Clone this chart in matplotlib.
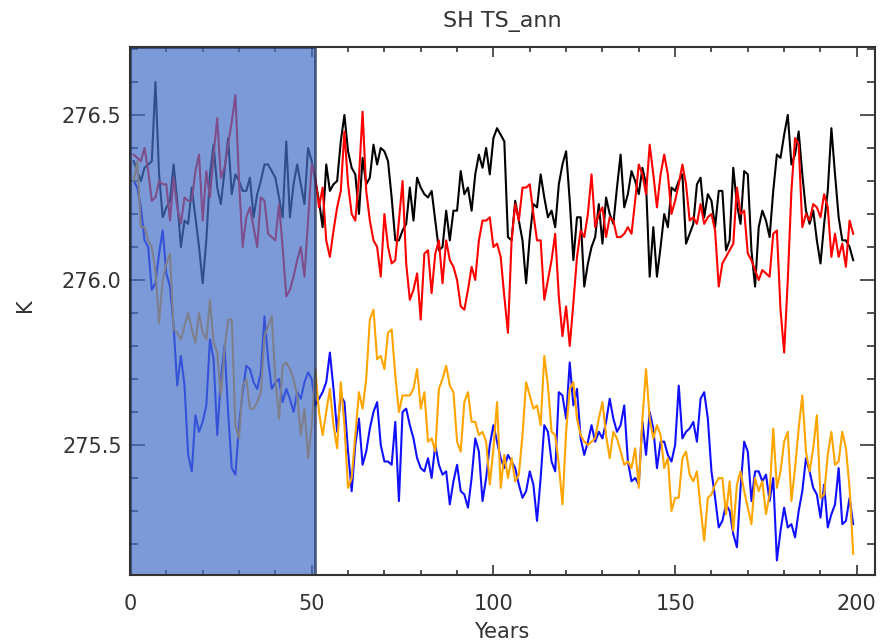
import numpy as np
import matplotlib
matplotlib.use("Agg")
from matplotlib import pyplot as plt
from matplotlib.ticker import MultipleLocator

# Annual SH surface temperature (K), years 1..199
years = np.arange(1, 200)

black = [276.36, 276.33, 276.30, 276.34, 276.35, 276.36, 276.60, 276.32, 276.19, 276.22,
         276.24, 276.35, 276.24, 276.10, 276.18, 276.17, 276.28, 276.19, 276.10, 275.99,
         276.12, 276.32, 276.41, 276.28, 276.23, 276.33, 276.43, 276.26, 276.32, 276.30,
         276.27, 276.27, 276.31, 276.19, 276.26, 276.30, 276.35, 276.35, 276.33, 276.31,
         276.25, 276.19, 276.42, 276.19, 276.29, 276.35, 276.29, 276.23, 276.40, 276.36,
         276.30, 276.24, 276.16, 276.35, 276.27, 276.29, 276.30, 276.42, 276.50, 276.39,
         276.34, 276.32, 276.20, 276.37, 276.29, 276.31, 276.41, 276.35, 276.40, 276.39,
         276.36, 276.25, 276.12, 276.12, 276.15, 276.17, 276.28, 276.18, 276.31, 276.28,
         276.26, 276.25, 276.27, 276.18, 276.09, 276.10, 276.21, 276.12, 276.21, 276.21,
         276.33, 276.26, 276.28, 276.21, 276.32, 276.38, 276.34, 276.40, 276.32, 276.43,
         276.46, 276.44, 276.42, 276.13, 276.12, 276.24, 276.18, 276.12, 275.99, 276.13,
         276.23, 276.22, 276.32, 276.25, 276.19, 276.21, 276.16, 276.29, 276.35, 276.39,
         276.24, 276.06, 276.19, 276.19, 275.98, 276.05, 276.10, 276.13, 276.23, 276.11,
         276.25, 276.20, 276.17, 276.28, 276.38, 276.22, 276.26, 276.33, 276.30, 276.26,
         276.34, 276.29, 276.01, 276.16, 276.01, 276.10, 276.20, 276.16, 276.28, 276.27,
         276.30, 276.32, 276.11, 276.14, 276.17, 276.29, 276.31, 276.19, 276.26, 276.24,
         276.16, 276.27, 276.27, 276.09, 276.12, 276.34, 276.23, 276.17, 276.33, 276.32,
         276.09, 275.98, 276.16, 276.21, 276.18, 276.13, 276.27, 276.38, 276.37, 276.44,
         276.50, 276.35, 276.38, 276.45, 276.32, 276.21, 276.17, 276.21, 276.12, 276.05,
         276.17, 276.27, 276.46, 276.32, 276.19, 276.12, 276.12, 276.10, 276.06]

red = [276.38, 276.37, 276.36, 276.40, 276.33, 276.24, 276.25, 276.30, 276.29, 276.29,
       276.18, 276.31, 276.22, 276.17, 276.25, 276.24, 276.24, 276.33, 276.38, 276.18,
       276.33, 276.25, 276.38, 276.49, 276.31, 276.34, 276.41, 276.48, 276.56, 276.30,
       276.10, 276.19, 276.22, 276.16, 276.10, 276.25, 276.24, 276.14, 276.13, 276.12,
       276.23, 276.10, 275.95, 275.97, 276.01, 276.06, 276.10, 276.01, 276.18, 276.35,
       276.31, 276.22, 276.28, 276.12, 276.07, 276.15, 276.22, 276.27, 276.45, 276.29,
       276.20, 276.18, 276.31, 276.51, 276.27, 276.18, 276.12, 276.10, 276.01, 276.20,
       276.10, 276.05, 276.06, 276.18, 276.30, 276.05, 275.94, 275.97, 276.02, 275.88,
       276.08, 276.09, 275.96, 276.08, 276.12, 275.99, 276.12, 276.06, 276.04, 276.00,
       275.92, 275.91, 275.97, 276.04, 276.00, 276.12, 276.18, 276.18, 276.19, 276.10,
       276.11, 276.07, 275.95, 275.84, 276.12, 276.23, 276.18, 276.28, 276.28, 276.29,
       276.20, 276.12, 276.12, 275.94, 276.00, 276.06, 276.14, 275.95, 275.83, 275.92,
       275.80, 275.93, 276.07, 276.15, 276.13, 276.20, 276.32, 276.16, 276.20, 276.22,
       276.13, 276.19, 276.18, 276.13, 276.13, 276.14, 276.16, 276.14, 276.24, 276.35,
       276.32, 276.26, 276.41, 276.32, 276.22, 276.32, 276.38, 276.32, 276.20, 276.24,
       276.29, 276.35, 276.29, 276.18, 276.19, 276.17, 276.23, 276.17, 276.19, 276.20,
       276.15, 275.98, 276.05, 276.07, 276.09, 276.11, 276.28, 276.20, 276.21, 276.08,
       276.06, 276.03, 276.00, 276.03, 276.02, 276.01, 276.14, 276.15, 275.91, 275.78,
       276.00, 276.27, 276.43, 276.41, 276.16, 276.20, 276.18, 276.23, 276.22, 276.19,
       276.26, 276.22, 276.07, 276.14, 276.07, 276.11, 276.04, 276.18, 276.14]

blue = [276.30, 276.28, 276.22, 276.12, 276.10, 275.97, 275.99, 276.08, 276.15, 276.02,
        275.98, 275.86, 275.68, 275.77, 275.68, 275.47, 275.42, 275.59, 275.54, 275.57,
        275.62, 275.82, 275.76, 275.53, 275.70, 275.80, 275.60, 275.43, 275.41, 275.56,
        275.66, 275.74, 275.73, 275.69, 275.67, 275.72, 275.89, 275.76, 275.67, 275.69,
        275.70, 275.63, 275.67, 275.64, 275.60, 275.66, 275.64, 275.69, 275.72, 275.70,
        275.62, 275.64, 275.66, 275.69, 275.78, 275.67, 275.54, 275.65, 275.63, 275.48,
        275.36, 275.50, 275.58, 275.44, 275.48, 275.55, 275.60, 275.63, 275.50, 275.45,
        275.45, 275.44, 275.57, 275.33, 275.60, 275.61, 275.56, 275.52, 275.46, 275.43,
        275.42, 275.46, 275.40, 275.50, 275.44, 275.41, 275.42, 275.32, 275.39, 275.44,
        275.36, 275.35, 275.31, 275.40, 275.52, 275.48, 275.33, 275.40, 275.50, 275.56,
        275.51, 275.46, 275.43, 275.47, 275.45, 275.43, 275.38, 275.34, 275.36, 275.42,
        275.38, 275.27, 275.40, 275.56, 275.54, 275.45, 275.42, 275.66, 275.65, 275.58,
        275.75, 275.62, 275.67, 275.52, 275.47, 275.51, 275.56, 275.51, 275.54, 275.52,
        275.57, 275.64, 275.58, 275.54, 275.56, 275.62, 275.45, 275.39, 275.40, 275.38,
        275.57, 275.47, 275.60, 275.55, 275.43, 275.51, 275.51, 275.47, 275.45, 275.50,
        275.68, 275.52, 275.54, 275.55, 275.57, 275.51, 275.64, 275.66, 275.58, 275.42,
        275.34, 275.25, 275.27, 275.32, 275.30, 275.23, 275.19, 275.37, 275.51, 275.48,
        275.33, 275.42, 275.42, 275.39, 275.41, 275.33, 275.40, 275.15, 275.24, 275.31,
        275.25, 275.26, 275.22, 275.30, 275.36, 275.46, 275.42, 275.37, 275.35, 275.28,
        275.38, 275.25, 275.29, 275.32, 275.43, 275.26, 275.27, 275.34, 275.26]

orange = [276.30, 276.36, 276.16, 276.16, 276.12, 276.10, 276.03, 275.87, 276.00, 276.05,
          276.08, 275.85, 275.84, 275.82, 275.86, 275.90, 275.85, 275.81, 275.90, 275.84,
          275.82, 275.94, 275.81, 275.78, 275.65, 275.79, 275.88, 275.88, 275.56, 275.52,
          275.68, 275.70, 275.61, 275.61, 275.63, 275.66, 275.83, 275.86, 275.89, 275.70,
          275.58, 275.74, 275.75, 275.73, 275.70, 275.65, 275.53, 275.61, 275.46, 275.56,
          275.73, 275.60, 275.53, 275.60, 275.67, 275.56, 275.49, 275.69, 275.56, 275.37,
          275.40, 275.53, 275.66, 275.61, 275.70, 275.88, 275.91, 275.76, 275.77, 275.73,
          275.84, 275.85, 275.71, 275.60, 275.65, 275.65, 275.65, 275.67, 275.73, 275.61,
          275.66, 275.51, 275.52, 275.48, 275.67, 275.70, 275.74, 275.68, 275.66, 275.51,
          275.48, 275.63, 275.66, 275.57, 275.57, 275.53, 275.54, 275.51, 275.38, 275.49,
          275.63, 275.37, 275.47, 275.40, 275.46, 275.39, 275.41, 275.53, 275.69, 275.65,
          275.61, 275.62, 275.56, 275.77, 275.68, 275.54, 275.53, 275.44, 275.32, 275.54,
          275.67, 275.69, 275.58, 275.53, 275.51, 275.50, 275.51, 275.52, 275.58, 275.63,
          275.53, 275.46, 275.54, 275.52, 275.48, 275.44, 275.45, 275.43, 275.49, 275.37,
          275.58, 275.73, 275.58, 275.52, 275.56, 275.53, 275.43, 275.46, 275.30, 275.34,
          275.34, 275.46, 275.48, 275.41, 275.39, 275.42, 275.31, 275.21, 275.34, 275.35,
          275.38, 275.40, 275.40, 275.29, 275.39, 275.24, 275.38, 275.42, 275.36, 275.31,
          275.26, 275.40, 275.36, 275.39, 275.29, 275.35, 275.55, 275.37, 275.42, 275.51,
          275.54, 275.33, 275.43, 275.55, 275.65, 275.48, 275.42, 275.49, 275.59, 275.34,
          275.35, 275.47, 275.54, 275.44, 275.45, 275.54, 275.49, 275.37, 275.17]

# spin-up period that gets greyed out
shade_start, shade_end = 0, 51

fig = plt.figure(figsize=(8.82, 6.44), dpi=100)
ax = fig.add_axes([130 / 882, 1 - 575 / 644, 745 / 882, 528 / 644])

ax.plot(years, black, color='black', lw=1.5)
ax.plot(years, red, color='#ff0000', lw=1.5)
ax.plot(years, blue, color='#1010ff', lw=1.5)
ax.plot(years, orange, color='#ffa500', lw=1.5)

ax.axvspan(shade_start, shade_end, facecolor='#4670c8', alpha=0.7,
           edgecolor='#1a2a55', lw=2, zorder=5)

ax.set_xlim(0, 205)
ax.set_ylim(275.106, 276.706)
ax.xaxis.set_major_locator(MultipleLocator(50))
ax.xaxis.set_minor_locator(MultipleLocator(10))
ax.yaxis.set_major_locator(MultipleLocator(0.5))
ax.yaxis.set_minor_locator(MultipleLocator(0.1))
ax.yaxis.set_major_formatter(plt.FormatStrFormatter('%.1f'))

ax.tick_params(axis='both', which='both', direction='in', top=True, right=True,
               color='#333333', width=1.2, labelsize=15, labelcolor='#333333')
ax.tick_params(axis='x', which='major', length=7, pad=14)
ax.tick_params(axis='x', which='minor', length=3.5)
ax.tick_params(axis='y', which='major', length=11, pad=6)
ax.tick_params(axis='y', which='minor', length=5.5)
for s in ax.spines.values():
    s.set_color('#333333')
    s.set_linewidth(1.5)
    s.set_zorder(6)

fig.text(502 / 882, 1 - 22 / 644, 'SH TS_ann', ha='center', va='center',
         fontsize=16, color='#333333')
fig.text(502 / 882, 1 - 632 / 644, 'Years', ha='center', va='center',
         fontsize=15, color='#333333')
fig.text(25 / 882, 1 - 305 / 644, 'K', ha='center', va='center',
         rotation=90, fontsize=15, color='#333333')

fig.savefig('out.png', dpi=100)
